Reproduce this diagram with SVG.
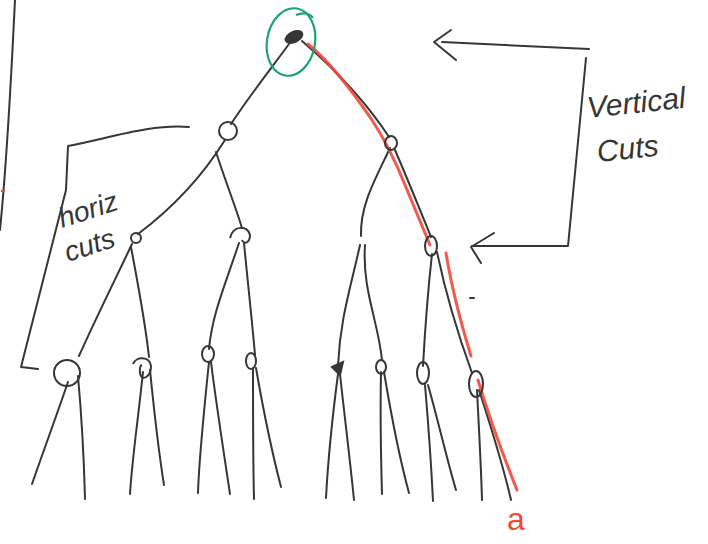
<svg xmlns="http://www.w3.org/2000/svg" width="708" height="544" viewBox="0 0 708 544">
<style>
.k{fill:none;stroke:#363636;stroke-width:2;stroke-linecap:round;stroke-linejoin:round}
.r{fill:none;stroke:#f2483a;stroke-width:3;stroke-linecap:round;opacity:0.9}
.g{fill:none;stroke:#1fa372;stroke-width:2.2}
.n{fill:none;stroke:#363636;stroke-width:2}
.t{font-family:"Liberation Sans","DejaVu Sans",sans-serif;fill:#363636;font-style:italic}
</style>
<rect width="708" height="544" fill="#ffffff"/>
<!-- page edge line -->
<path class="k" d="M15,0 C12,60 8,150 0,230"/>
<path d="M1,191 L5,191" stroke="#f2483a" stroke-width="2"/>
<path class="k" d="M470,298 L474,298"/>
<g id="connectors">
<!-- root to level 1 -->
<path class="k" d="M289,44 C270,70 250,95 231,124"/>
<path class="k" d="M302,41 C330,65 365,100 389,137"/>
<!-- level 1 to level 2 -->
<path class="k" d="M225,140 C200,180 170,210 138,234"/>
<path class="k" d="M216,152 C225,180 235,205 242,228"/>
<path class="k" d="M390,148 C375,180 360,205 361,236"/>
<path class="k" d="M395,150 C408,180 420,210 431,237"/>
<!-- level 2 to level 3 -->
<path class="k" d="M132,244 C115,280 95,320 79,356"/>
<path class="k" d="M131,247 C138,285 145,320 149,357"/>
<path class="k" d="M239,243 C225,285 212,315 209,349"/>
<path class="k" d="M244,243 C248,285 252,320 255,355"/>
<path class="k" d="M360,245 C350,290 340,320 338,366"/>
<path class="k" d="M365,245 C362,290 378,320 382,360"/>
<path class="k" d="M432,254 C428,290 425,330 423,366"/>
<path class="k" d="M437,252 C447,300 460,340 472,373"/>
<!-- level 3 to leaves -->
<path class="k" d="M68,382 C55,420 42,455 32,484"/>
<path class="k" d="M78,376 C82,420 84,460 85,499"/>
<path class="k" d="M143,372 C138,420 132,460 130,494"/>
<path class="k" d="M150,370 C155,420 160,460 164,485"/>
<path class="k" d="M209,362 C204,410 199,460 198,493"/>
<path class="k" d="M211,362 C217,410 225,460 230,494"/>
<path class="k" d="M253,368 C253,420 253,460 254,499"/>
<path class="k" d="M256,368 C265,420 274,460 281,487"/>
<path class="k" d="M338,374 C332,420 328,460 326,498"/>
<path class="k" d="M340,374 C345,420 350,460 354,500"/>
<path class="k" d="M381,372 C380,420 381,460 382,494"/>
<path class="k" d="M384,372 C392,420 400,460 409,493"/>
<path class="k" d="M425,385 C428,420 431,460 433,501"/>
<path class="k" d="M428,385 C438,420 447,460 456,490"/>
<path class="k" d="M477,390 C479,430 481,465 482,500"/>
<path class="k" d="M479,390 C492,430 503,465 511,500"/>
<!-- red path to a -->
<path class="r" d="M308,44 C330,62 355,95 372,120 C385,140 395,160 405,185 L430,245"/>
<path class="r" d="M446,253 C452,290 460,320 471,356"/>
<path class="r" d="M478,380 C490,420 505,460 517,490"/>
</g>
<g id="root">
<ellipse cx="294" cy="37" rx="9" ry="5" transform="rotate(-25 294 37)" fill="#363636" stroke="#363636" stroke-width="2"/>
<ellipse class="g" cx="291" cy="42" rx="24" ry="34" transform="rotate(10 291 42)"/>
<path class="g" d="M296,15 C303,12 310,13 313,18"/>
</g>
<g id="n1l"><circle class="n" cx="228" cy="131" r="9"/></g>
<g id="n1r"><ellipse class="n" cx="391" cy="143" rx="6" ry="7"/></g>
<g id="n2a"><circle class="n" cx="136" cy="238" r="5"/></g>
<g id="n2b"><path class="n" d="M230,238 C233,225 248,225 250,235 C250,243 244,245 242,240"/></g>
<g id="n2d"><ellipse class="n" cx="431" cy="246" rx="6" ry="10"/></g>
<g id="n3a"><circle class="n" cx="67" cy="373" r="13"/></g>
<g id="n3b"><path class="n" d="M133,364 C136,356 150,356 151,366 C151,375 146,378 143,378 C139,376 139,366 142,365"/></g>
<g id="n3c"><ellipse class="n" cx="208" cy="354" rx="6" ry="8"/></g>
<g id="n3d"><ellipse class="n" cx="251" cy="361" rx="5" ry="8"/></g>
<g id="n3e"><path d="M332,367 L343,362 L340,375 Z" fill="#363636" stroke="#363636" stroke-width="2"/></g>
<g id="n3f"><ellipse class="n" cx="381" cy="367" rx="5" ry="7"/></g>
<g id="n3g"><ellipse class="n" cx="423" cy="373" rx="6" ry="11"/></g>
<g id="n3h"><ellipse class="n" cx="476" cy="384" rx="7" ry="13"/></g>
<!-- horiz cuts bracket -->
<g id="horiz-cuts">
<path class="k" d="M189,127 C150,124 110,138 68,146 L66,190 L21,367 L38,369"/>
<text class="t" x="62" y="228" font-size="28" transform="rotate(-18 62 228)">horiz</text>
<text class="t" x="68" y="262" font-size="28" transform="rotate(-18 68 262)">cuts</text>
</g>
<!-- vertical cuts bracket -->
<g id="vertical-cuts">
<path class="k" d="M589,49 L442,42"/>
<path class="k" d="M451,30 L434,42 L456,60"/>
<path class="k" d="M586,58 L568,246 L472,246"/>
<path class="k" d="M494,233 L471,247 L481,263"/>
<text class="t" x="588" y="118" font-size="30" transform="rotate(-6 588 118)">Vertical</text>
<text class="t" x="598" y="162" font-size="30" transform="rotate(-6 598 162)">Cuts</text>
</g>
<text x="507" y="530" font-size="32" font-family="Liberation Sans, DejaVu Sans, sans-serif" fill="#f2483a">a</text>
</svg>
